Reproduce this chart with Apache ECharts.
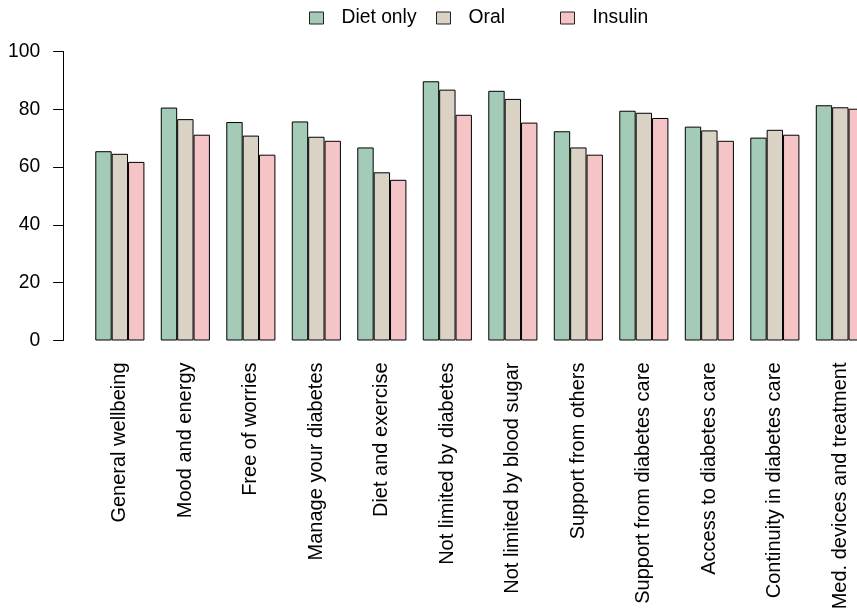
<!DOCTYPE html>
<html>
<head>
<meta charset="utf-8">
<script src="https://cdn.jsdelivr.net/npm/echarts@6/dist/echarts.min.js"></script>
<style>html,body{margin:0;padding:0;background:#fff;overflow:hidden;width:857px;height:614px;}#c{width:900px;height:614px;}</style>
</head>
<body>
<div id="c"></div>
<script>
const categories = ["General wellbeing","Mood and energy","Free of worries","Manage your diabetes","Diet and exercise","Not limited by diabetes","Not limited by blood sugar","Support from others","Support from diabetes care","Access to diabetes care","Continuity in diabetes care","Med. devices and treatment"];
const dietOnly = [65.5, 80.6, 75.6, 75.8, 66.8, 89.7, 86.4, 72.4, 79.5, 74.0, 70.2, 81.4];
const oral     = [64.6, 76.6, 70.9, 70.5, 58.2, 86.8, 83.6, 66.8, 78.8, 72.7, 72.9, 80.7];
const insulin  = [61.8, 71.2, 64.3, 69.1, 55.6, 78.1, 75.4, 64.3, 77.0, 69.1, 71.2, 80.2];
const yTicks = [0, 20, 40, 60, 80, 100];

const FONT = 'Liberation Sans, Arial, sans-serif';
const chart = echarts.init(document.getElementById('c'), null, {renderer: 'canvas'});
function legend(name, left) {
  return {
    data: [name], left: left, top: 8, padding: 0,
    itemWidth: 14, itemHeight: 12, icon: 'rect',
    itemStyle: {borderColor: '#222', borderWidth: 1},
    textStyle: {fontFamily: FONT, fontSize: 19.3, color: '#000', lineHeight: 20, padding: [0, 0, 0, 13]},
    selectedMode: false
  };
}
const barStyle = c => ({color: c, borderColor: '#000', borderWidth: 1});
chart.setOption({
  animation: false,
  backgroundColor: '#fff',
  legend: [legend('Diet only', 309), legend('Oral', 436), legend('Insulin', 560)],
  grid: {left: 87.1, top: 51.5, height: 289, width: 786},
  xAxis: {
    type: 'category', data: categories,
    axisLine: {show: false}, axisTick: {show: false},
    axisLabel: {rotate: 90, margin: 22, interval: 0, fontFamily: FONT, fontSize: 20, color: '#000', padding: [8, 0, 0, 0]}
  },
  yAxis: {
    type: 'value', min: yTicks[0], max: yTicks[yTicks.length - 1], interval: 20,
    offset: 24,
    splitLine: {show: false},
    axisLine: {show: true, lineStyle: {color: '#000', width: 1}},
    axisTick: {show: true, length: 10, lineStyle: {color: '#000', width: 1}},
    axisLabel: {margin: 23, fontFamily: FONT, fontSize: 19.3, color: '#000',
      formatter: v => yTicks.includes(v) ? String(v) : ''}
  },
  series: [
    {name: 'Diet only', type: 'bar', data: dietOnly, itemStyle: barStyle('#A3CBB8'), barGap: '0%', barCategoryGap: '25%'},
    {name: 'Oral', type: 'bar', data: oral, itemStyle: barStyle('#D9D2C5'), barGap: '0%', barCategoryGap: '25%'},
    {name: 'Insulin', type: 'bar', data: insulin, itemStyle: barStyle('#F5C4C7'), barGap: '0%', barCategoryGap: '25%'}
  ]
});
</script>
</body>
</html>
